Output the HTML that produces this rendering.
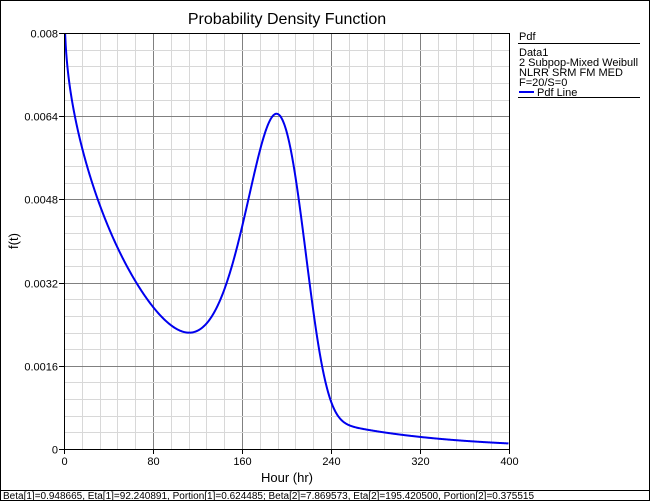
<!DOCTYPE html>
<html><head><meta charset="utf-8"><style>
html,body{margin:0;padding:0;background:#fff;}
svg{display:block;font-family:"Liberation Sans",sans-serif;}
</style></head><body>
<svg id="s" width="650" height="501" viewBox="0 0 650 501">
<rect x="0.5" y="0.5" width="649" height="500" fill="#fff" stroke="#000"/>
<line x1="0" y1="490.5" x2="650" y2="490.5" stroke="#000"/>
<text x="3" y="499" font-size="10">Beta[1]=0.948665, Eta[1]=92.240891, Portion[1]=0.624485; Beta[2]=7.869573, Eta[2]=195.420500, Portion[2]=0.375515</text>
<text x="287" y="24" font-size="16" text-anchor="middle">Probability Density Function</text>
<g id="grid"></g>
<clipPath id="c"><rect x="64" y="33" width="445" height="416"/></clipPath>
<path id="curve" d="" fill="none" stroke="#0000ee" stroke-width="2" clip-path="url(#c)"/>
<rect x="64.5" y="33.5" width="445" height="416" fill="none" stroke="#000"/>
<g id="ticks" font-size="11"></g>
<text x="287" y="482" font-size="13" text-anchor="middle">Hour (hr)</text>
<text x="18" y="241" font-size="13" text-anchor="middle" transform="rotate(-90 18 241)">f(t)</text>
<g font-size="11">
<text x="519" y="40">Pdf</text>
<line x1="518" y1="43.5" x2="640" y2="43.5" stroke="#000"/>
<text x="519" y="56">Data1</text>
<text x="519" y="66">2 Subpop-Mixed Weibull</text>
<text x="519" y="76">NLRR SRM FM MED</text>
<text x="519" y="86">F=20/S=0</text>
<line x1="519" y1="92" x2="534" y2="92" stroke="#0000ee" stroke-width="2"/>
<text x="537" y="96">Pdf Line</text>
<line x1="518" y1="97.5" x2="640" y2="97.5" stroke="#000"/>
</g>
</svg>
<script>
var ns="http://www.w3.org/2000/svg",g=document.getElementById("grid"),tk=document.getElementById("ticks");
function X(t){return 64+t*445/400;}function Y(v){return 449-v*416/0.008;}
function L(p,x1,y1,x2,y2,c){var l=document.createElementNS(ns,"line");l.setAttribute("x1",x1);l.setAttribute("y1",y1);l.setAttribute("x2",x2);l.setAttribute("y2",y2);l.setAttribute("stroke",c);p.appendChild(l);}
function T(x,y,s,a){var t=document.createElementNS(ns,"text");t.setAttribute("x",x);t.setAttribute("y",y);t.setAttribute("text-anchor",a);t.textContent=s;tk.appendChild(t);}
for(var i=1;i<25;i++){var x=Math.round(X(i*16))+0.5;L(g,x,33,x,449,i%5?"#d8d8d8":"#808080");}
for(var i=1;i<25;i++){var y=Math.round(Y(i*0.00032))+0.5;L(g,64,y,509,y,i%5?"#d8d8d8":"#808080");}
var xl=["0","80","160","240","320","400"],yl=["0","0.0016","0.0032","0.0048","0.0064","0.008"];
for(var i=0;i<6;i++){var x=Math.round(X(i*80))+0.5;L(tk,x,449,x,454,"#000");T(x,465,xl[i],"middle");
var y=Math.round(Y(i*0.0016))+0.5;L(tk,59,y,64,y,"#000");T(58,y+4,yl[i],"end");}
function w(t,b,e){var z=t/e;return b/e*Math.pow(z,b-1)*Math.exp(-Math.pow(z,b));}
var d="";for(var t=0.05;t<=400;t+=0.5){var v=0.624485*w(t,0.948665,92.240891)+0.375515*w(t,7.869573,195.4205);
d+=(d?"L":"M")+X(t).toFixed(2)+","+Math.max(Y(v),20).toFixed(2);}
document.getElementById("curve").setAttribute("d",d);
</script>
</body></html>
